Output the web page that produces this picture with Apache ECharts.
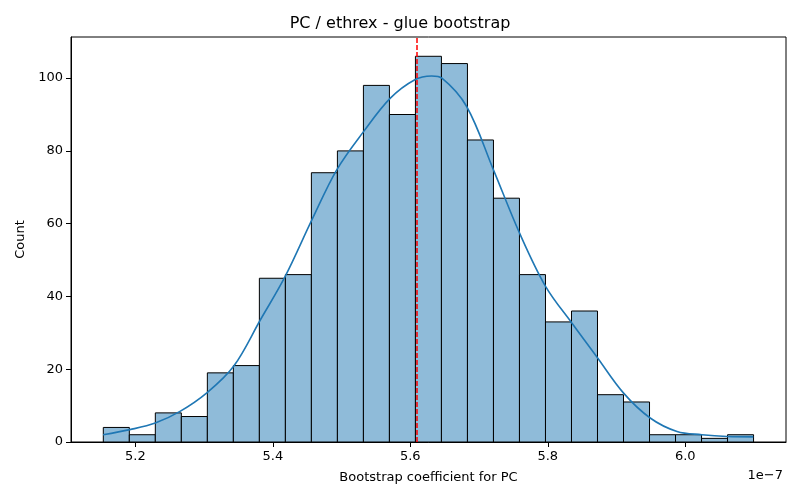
<!DOCTYPE html>
<html>
<head>
<meta charset="utf-8">
<script src="https://cdn.jsdelivr.net/npm/echarts@6/dist/echarts.min.js"></script>
<style>
  html, body { margin: 0; padding: 0; background: #fff; }
  #chart { width: 800px; height: 500px; }
</style>
</head>
<body>
<div id="chart"></div>
<script>
// histogram bins (x in units of 1e-7)
var binStart = 5.1534
var binWidth = 0.03784
var counts = [4, 2, 8, 7, 19, 21, 45, 46, 74, 80, 98, 90, 106, 104, 83, 67, 46, 33, 36, 13, 11, 2, 2, 1, 2]

// kde curve
var kdeX = [5.153, 5.192, 5.229, 5.265, 5.304, 5.343, 5.382, 5.418, 5.457, 5.493, 5.532, 5.571, 5.606, 5.631, 5.646, 5.682, 5.721, 5.759, 5.797, 5.835, 5.871, 5.910, 5.949, 5.988, 6.024, 6.061, 6.099]
var kdeY = [2.0, 3.4, 5.2, 8.4, 13.5, 20.8, 33.6, 45.5, 61.1, 74.8, 85.3, 94.5, 99.5, 100.6, 100, 92.2, 74.8, 57.4, 42.7, 32.7, 23.5, 13.5, 6.6, 2.9, 2.0, 1.5, 1.4]

var meanValue = 5.607
var xTicks = [5.2, 5.4, 5.6, 5.8, 6.0]
var yTicks = [0, 20, 40, 60, 80, 100]

var font = 'DejaVu Sans'

var barData = counts.map(function (c, i) {
  return [binStart + i * binWidth, binStart + (i + 1) * binWidth, c]
})
var kdeData = kdeX.map(function (x, i) { return [x, kdeY[i]] })

var chart = echarts.init(document.getElementById('chart'))
chart.setOption({
  animation: false,
  title: {
    text: 'PC / ethrex - glue bootstrap',
    left: 'center',
    top: 11,
    textStyle: { fontFamily: font, fontSize: 16, fontWeight: 'normal', color: '#000' }
  },
  grid: {
    left: 71,
    right: 14,
    top: 37,
    bottom: 58,
    show: true,
    borderColor: '#000',
    borderWidth: 1
  },
  xAxis: {
    type: 'value',
    min: 5.1064,
    max: 6.1466,
    name: 'Bootstrap coefficient for PC',
    nameLocation: 'middle',
    nameGap: 29,
    nameTextStyle: { fontFamily: font, fontSize: 13, color: '#000' },
    splitLine: { show: false },
    axisLine: { lineStyle: { color: '#000' } },
    axisTick: { length: 5, customValues: xTicks, lineStyle: { color: '#000' } },
    axisLabel: {
      customValues: xTicks,
      fontFamily: font,
      fontSize: 13,
      color: '#000',
      margin: 8,
      formatter: function (v) { return v.toFixed(1) }
    }
  },
  yAxis: {
    type: 'value',
    min: 0,
    max: 111.3,
    name: 'Count',
    nameLocation: 'middle',
    nameGap: 43,
    nameTextStyle: { fontFamily: font, fontSize: 13, color: '#000' },
    splitLine: { show: false },
    axisLine: { show: true, lineStyle: { color: '#000' } },
    axisTick: { show: true, length: 5, customValues: yTicks, lineStyle: { color: '#000' } },
    axisLabel: {
      customValues: yTicks,
      fontFamily: font,
      fontSize: 13,
      color: '#000',
      margin: 8
    }
  },
  graphic: [{
    type: 'text',
    right: 17,
    top: 469,
    style: { text: '1e\u22127', fontFamily: font, fontSize: 13, fill: '#000' }
  }],
  series: [{
    type: 'custom',
    data: barData,
    encode: { x: [0, 1], y: 2 },
    renderItem: function (params, api) {
      var p0 = api.coord([api.value(0), 0])
      var p1 = api.coord([api.value(1), api.value(2)])
      return {
        type: 'rect',
        shape: { x: p0[0], y: p1[1], width: p1[0] - p0[0], height: p0[1] - p1[1] },
        style: { fill: '#8fbbd9', stroke: '#000', lineWidth: 1 }
      }
    },
    z: 2
  }, {
    type: 'line',
    data: kdeData,
    smooth: 0.35,
    showSymbol: false,
    lineStyle: { color: '#1f77b4', width: 1.6 },
    z: 3
  }, {
    type: 'line',
    data: [],
    z: 5,
    markLine: {
      silent: true,
      z: 5,
      symbol: ['none', 'none'],
      label: { show: false },
      lineStyle: { color: '#ff0000', type: [5, 2], width: 1.5, opacity: 1 },
      emphasis: { disabled: true },
      data: [{ xAxis: meanValue }]
    }
  }]
})
</script>
</body>
</html>
